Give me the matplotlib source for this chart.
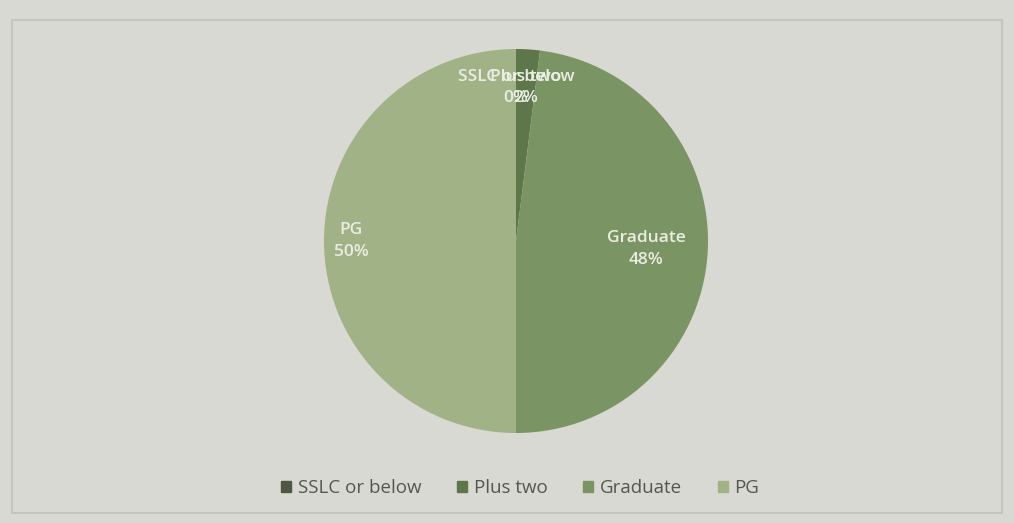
import numpy as np
import matplotlib
matplotlib.use("Agg")
import matplotlib.pyplot as plt
from matplotlib.patches import Rectangle

categories = ["SSLC or below", "Plus two", "Graduate", "PG"]
shares = [0, 2, 48, 50]
colors = ["#4c5843", "#5d774a", "#7b9464", "#a0b286"]
label_dist = [0.80, 0.80, 0.68, 0.86]

plt.rcParams["font.family"] = ["Open Sans", "DejaVu Sans"]

W, H = 1014, 523
fig = plt.figure(figsize=(W / 100, H / 100), dpi=100)
fig.patch.set_facecolor("#d8d9d3")

# chart frame
frame = fig.add_axes([0, 0, 1, 1])
frame.set_xlim(0, W)
frame.set_ylim(H, 0)
frame.axis("off")
frame.add_patch(Rectangle((12, 20), W - 24, H - 30, fill=False,
                          edgecolor="#c4c5bf", linewidth=1.5))

cx, cy, r = 516, 241, 192
ax = fig.add_axes([(cx - r) / W, (H - cy - r) / H, 2 * r / W, 2 * r / H])
wedges, _ = ax.pie(shares, colors=colors, startangle=90, counterclock=False,
                   radius=1.0, wedgeprops=dict(linewidth=0))
ax.set_xlim(-1, 1)
ax.set_ylim(-1, 1)
ax.set_aspect("equal")
ax.axis("off")

for w, name, val, d in zip(wedges, categories, shares, label_dist):
    mid = np.deg2rad((w.theta1 + w.theta2) / 2)
    x, y = d * np.cos(mid), d * np.sin(mid)
    ax.text(x, y, f"{name}\n{val}%", ha="center", va="center",
            color="#eaeee2", fontsize=12.5, linespacing=1.45, fontweight="semibold")

handles = [Rectangle((0, 0), 1, 1, color=c) for c in colors]
fig.legend(handles, categories, loc="center", bbox_to_anchor=(0.513, 1 - 488 / H),
           ncol=4, frameon=False, fontsize=13.5, handlelength=0.55, handleheight=0.55,
           columnspacing=1.9, handletextpad=0.35, labelcolor="#55574f")

fig.savefig("out.png", dpi=100, facecolor=fig.get_facecolor())
